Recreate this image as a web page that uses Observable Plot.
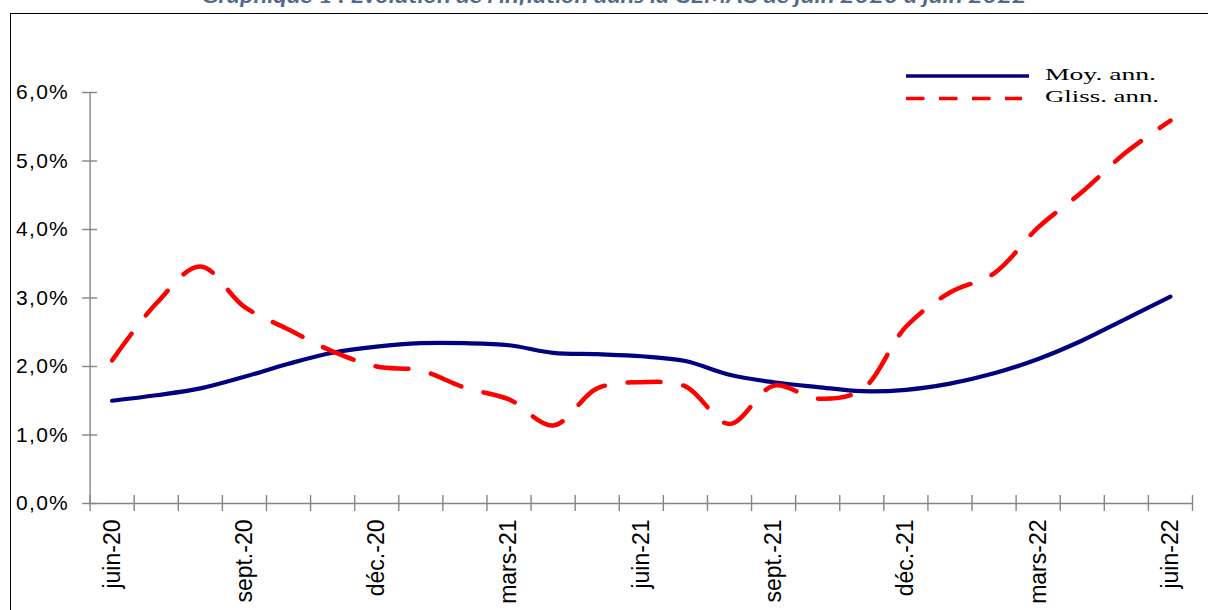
<!DOCTYPE html>
<html lang="fr">
<head>
<meta charset="utf-8">
<script src="https://cdn.jsdelivr.net/npm/d3@7"></script>
<script src="https://cdn.jsdelivr.net/npm/@observablehq/plot@0.6"></script>
<style>
  html, body { margin: 0; padding: 0; background: #fff; }
  #page { position: relative; width: 1208px; height: 610px; overflow: hidden; background: #fff; }
  #title { position: absolute; left: 0; top: 0; }
  #frame { position: absolute; left: 10px; top: 13px; width: 1400px; height: 800px;
           border-top: 1.5px solid #000; border-left: 1.5px solid #000; }
  #chart { position: absolute; left: 0; top: 16px; }
  #legend { position: absolute; left: 0; top: 0; }
  #chart g[aria-label="y-axis tick label"] text { letter-spacing: 1.3px; }
</style>
</head>
<body>
<div id="page">
  <svg id="title" width="1208" height="14">
    <text x="614" y="3" text-anchor="middle" textLength="825" lengthAdjust="spacingAndGlyphs"
          font-family="Lato, 'Open Sans', sans-serif" font-weight="bold" font-style="italic"
          font-size="20" fill="#55698a">Graphique 1 : Evolution de l’inflation dans la CEMAC de juin 2020 à juin 2022</text>
  </svg>
  <div id="frame"></div>
  <div id="chart"></div>
  <svg id="legend" width="1208" height="120">
    <line x1="906" x2="1029" y1="76" y2="76" stroke="#000080" stroke-width="3.3"/>
    <line x1="906" x2="1022" y1="98.5" y2="98.5" stroke="#ff0000" stroke-width="3.6" stroke-dasharray="18.5,14.5"/>
    <text x="1045" y="80" font-family="'Liberation Serif', 'Times New Roman', serif" font-size="17"
          textLength="111" lengthAdjust="spacingAndGlyphs" fill="#000">Moy. ann.</text>
    <text x="1045" y="102" font-family="'Liberation Serif', 'Times New Roman', serif" font-size="17"
          textLength="114" lengthAdjust="spacingAndGlyphs" fill="#000">Gliss. ann.</text>
  </svg>
</div>
<script>
// Months from June 2020 to June 2022
const months = ["juin-20", "juil.-20", "août-20", "sept.-20", "oct.-20", "nov.-20", "déc.-20",
  "janv.-21", "févr.-21", "mars-21", "avr.-21", "mai-21", "juin-21", "juil.-21", "août-21",
  "sept.-21", "oct.-21", "nov.-21", "déc.-21", "janv.-22", "févr.-22", "mars-22", "avr.-22",
  "mai-22", "juin-22"];

// Annual average inflation (%)
const moyAnn = [1.50, 1.58, 1.68, 1.85, 2.04, 2.20, 2.29, 2.34, 2.34, 2.31, 2.20, 2.18, 2.15,
  2.08, 1.88, 1.77, 1.70, 1.64, 1.66, 1.75, 1.90, 2.11, 2.38, 2.70, 3.02];

// Year-on-year inflation (%)
const glissAnn = [2.09, 2.92, 3.46, 2.87, 2.54, 2.22, 2.00, 1.94, 1.69, 1.52, 1.14, 1.68, 1.77,
  1.71, 1.16, 1.72, 1.53, 1.66, 2.58, 3.08, 3.36, 4.03, 4.55, 5.13, 5.59];

// Axis ticks and their labels
const yTicks = [0, 1, 2, 3, 4, 5, 6];
const yTickLabels = ["0,0%", "1,0%", "2,0%", "3,0%", "4,0%", "5,0%", "6,0%"];
const xLabelIndex = [0, 3, 6, 9, 12, 15, 18, 21, 24];

const moyRows = months.map((m, i) => ({i, v: moyAnn[i]}));
const glissRows = months.map((m, i) => ({i, v: glissAnn[i]}));
const boundaries = d3.range(-0.5, months.length, 1);

const axisColor = "#858585";

const chart = Plot.plot({
  width: 1208,
  height: 594,
  marginLeft: 89.6,
  marginRight: 16,
  marginTop: 76,
  marginBottom: 107,
  x: {type: "linear", domain: [-0.5, months.length - 0.5], axis: null},
  y: {domain: [0, 6], axis: null},
  style: {fontFamily: "'Liberation Sans', Arial, sans-serif", color: "#000", background: "transparent", overflow: "visible"},
  marks: [
    // axis lines
    Plot.ruleX([-0.5], {y1: 0, y2: 6, stroke: axisColor, strokeWidth: 1.4}),
    Plot.ruleY([0], {x1: -0.5, x2: months.length - 0.5, stroke: axisColor, strokeWidth: 1.4}),
    // crossing tick marks
    Plot.ruleY(yTicks, {x1: -0.5, x2: -0.5, insetLeft: -7.5, insetRight: -7.5, stroke: axisColor, strokeWidth: 1.4}),
    Plot.ruleX(boundaries, {y1: 0, y2: 0, insetTop: -8, insetBottom: -8, stroke: axisColor, strokeWidth: 1.4}),
    // tick labels
    Plot.axisY({ticks: yTicks, tickSize: 0, tickPadding: 21, fontSize: 21, label: null,
      tickFormat: (d) => yTickLabels[yTicks.indexOf(d)]}),
    Plot.axisX({ticks: xLabelIndex, tickSize: 0, tickPadding: 16, tickRotate: -90, fontSize: 23, label: null,
      tickFormat: (i) => months[i]}),
    // series
    Plot.line(moyRows, {x: "i", y: "v", curve: "catmull-rom", stroke: "#000080", strokeWidth: 4.2}),
    Plot.line(glissRows, {x: "i", y: "v", curve: "catmull-rom", stroke: "#ff0000", strokeWidth: 4.5,
      strokeDasharray: "33,23", strokeLinecap: "round"})
  ]
});

document.getElementById("chart").appendChild(chart);
</script>
</body>
</html>
